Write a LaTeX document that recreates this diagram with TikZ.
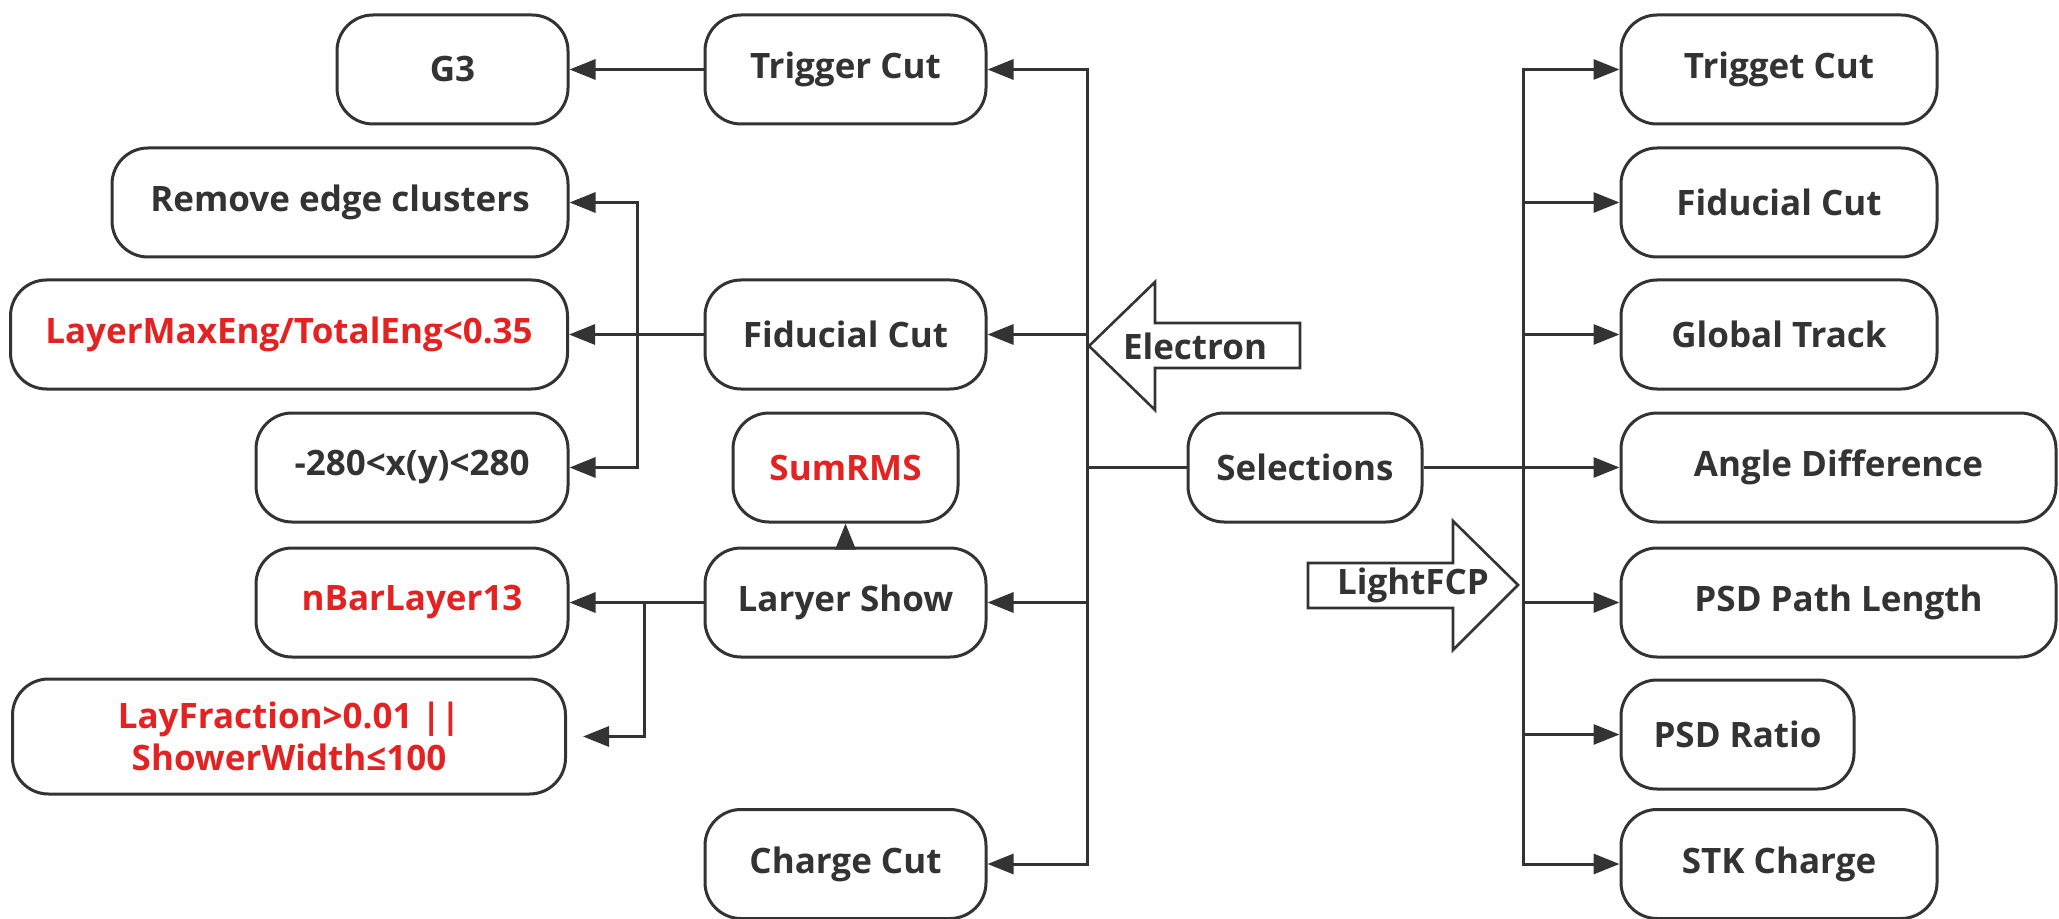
\documentclass[tikz,border=0pt]{standalone}
\usepackage{fontspec}
\setmainfont{Open Sans}
\usetikzlibrary{arrows.meta}
\definecolor{ink}{HTML}{333333}
\definecolor{redtxt}{HTML}{E52222}
\begin{document}
\begin{tikzpicture}[x=0.5pt,y=-0.5pt,
  box/.style={draw=ink,line width=1.5pt,rounded corners=18pt,minimum height=54.5pt,inner sep=0pt,
    font=\bfseries\fontsize{17.5}{21}\selectfont,text=ink,align=center},
  redbox/.style={box,text=redtxt},
  conn/.style={draw=ink,line width=1.5pt},
  arr/.style={conn,-{Triangle[length=13pt,width=10pt]}},
  darr/.style={conn,{Triangle[length=13pt,width=10pt]}-{Triangle[length=13pt,width=10pt]}},
  bigarrow/.style={draw=ink,line width=1.3pt,fill=white,line join=miter},
  lbl/.style={font=\bfseries\fontsize{17.5}{21}\selectfont,text=ink,inner sep=0pt}
]
\useasboundingbox[fill=white] (0,0) rectangle (2059,919);

% left column
\node[box,minimum width=115.5pt] (g3) at (452.5,69.5) {G3};
\node[box,minimum width=228pt] (remove) at (340,202.5) {Remove edge clusters};
\node[redbox,minimum width=278.5pt] (lmax) at (289,334.5) {LayerMaxEng/TotalEng<0.35};
\node[box,minimum width=156pt] (r280) at (412,467.5) {-280<x(y)<280};
\node[redbox,minimum width=156pt] (nbar) at (412,602.5) {nBarLayer13};
\node[redbox,minimum width=276.5pt,minimum height=57.5pt] (layfrac) at (289,736.5) {LayFraction>0.01 ||\\ShowerWidth≤100};

% middle column
\node[box,minimum width=140.5pt] (trig) at (845.5,69.5) {Trigger Cut};
\node[box,minimum width=140.5pt] (fid) at (845.5,334.5) {Fiducial Cut};
\node[redbox,minimum width=112.5pt] (sumrms) at (845.5,467.5) {SumRMS};
\node[box,minimum width=140.5pt] (layer) at (845.5,602.5) {Laryer Show};
\node[box,minimum width=140.5pt] (charge) at (845.5,864) {Charge Cut};

% centre
\node[box,minimum width=117pt] (sel) at (1305,467.5) {Selections};

% right column
\node[box,minimum width=158pt] (rtrig) at (1779,69.5) {Trigget Cut};
\node[box,minimum width=158pt] (rfid) at (1779,202.5) {Fiducial Cut};
\node[box,minimum width=158pt] (glob) at (1779,334.5) {Global Track};
\node[box,minimum width=217.5pt] (angle) at (1838.5,467.5) {Angle Difference};
\node[box,minimum width=217.5pt] (psdpath) at (1838.5,602.5) {PSD Path Length};
\node[box,minimum width=116.5pt] (psdratio) at (1737.5,734.5) {PSD Ratio};
\node[box,minimum width=158pt] (stk) at (1779,864) {STK Charge};

% junction coordinates
\coordinate (lt) at (1087,467.5);
\coordinate (rt) at (1523,467.5);
\coordinate (fk1) at (637,334.5);
\coordinate (fk2) at (644,602.5);

% left trunk
\draw[conn] (sel.west) -- (lt);
\draw[darr] (trig.east) -- (lt |- trig.east) -- (lt |- charge.east) -- (charge.east);
\draw[arr] (lt |- fid.east) -- (fid.east);
\draw[arr] (lt |- layer.east) -- (layer.east);

% left branches
\draw[arr] (trig.west) -- (g3.east);
\draw[arr] (fid.west) -- (lmax.east);
\draw[darr] (remove.east) -- (fk1 |- remove.east) -- (fk1 |- r280.east) -- (r280.east);
\draw[arr] (layer.west) -- (nbar.east);
\draw[arr,shorten >=8pt] (fk2) -- (fk2 |- layfrac.east) -- (layfrac.east);
\draw[arr] (layer.north) -- (sumrms.south);

% right trunk
\draw[conn] (sel.east) -- (rt);
\draw[darr] (rtrig.west) -- (rt |- rtrig.west) -- (rt |- stk.west) -- (stk.west);
\draw[arr] (rt |- rfid.west) -- (rfid.west);
\draw[arr] (rt |- glob.west) -- (glob.west);
\draw[arr] (rt |- angle.west) -- (angle.west);
\draw[arr] (rt |- psdpath.west) -- (psdpath.west);
\draw[arr] (rt |- psdratio.west) -- (psdratio.west);

% block arrows
\draw[bigarrow] (1089,346) -- (1155,282) -- (1155,323) -- (1300,323) -- (1300,368) -- (1155,368) -- (1155,410) -- cycle;
\node[lbl] (electron) at (1195,346) {Electron};
\draw[bigarrow] (1308,563) -- (1453,563) -- (1453,521) -- (1518,585) -- (1453,650) -- (1453,608) -- (1308,608) -- cycle;
\node[lbl] (lightfcp) at (1413,585) {LightFCP};
\end{tikzpicture}
\end{document}
